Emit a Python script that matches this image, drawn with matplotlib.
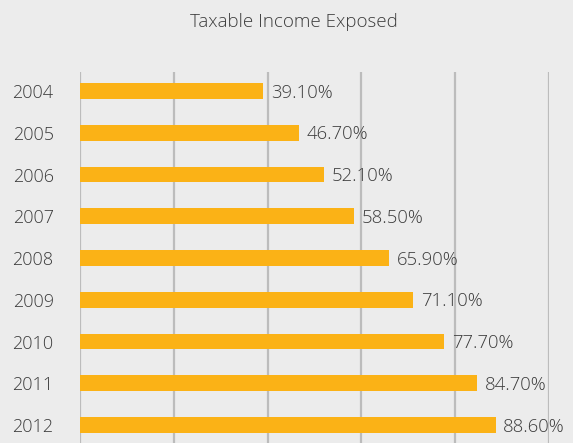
import numpy as np
import matplotlib.pyplot as plt

years = ["2004", "2005", "2006", "2007", "2008", "2009", "2010", "2011", "2012"]
exposed = [39.1, 46.7, 52.1, 58.5, 65.9, 71.1, 77.7, 84.7, 88.6]

bg = "#ececec"
bar_color = "#fbb216"
text_color = "#3c3c3c"

plt.rcParams["font.family"] = ["Open Sans", "DejaVu Sans"]
plt.rcParams["font.weight"] = "light"

fig = plt.figure(figsize=(5.73, 4.43), dpi=100, facecolor=bg)
ax = fig.add_axes([80 / 573, 0, 469 / 573, 371 / 443], facecolor=bg)

y = np.arange(len(years))
ax.barh(y, exposed, height=0.38, color=bar_color, zorder=3)

for yi, v in zip(y, exposed):
    ax.text(v + 1.6, yi + 0.04, f"{v:.2f}%", va="center", ha="left", fontweight="light",
            fontsize=13.3, color=text_color, clip_on=False)

ax.set_xlim(0, 100)
ax.set_ylim(8.43, -0.455)
ax.set_xticks(np.arange(0, 101, 20))
ax.set_xticklabels([])
ax.grid(axis="x", color="#bcbcbc", linewidth=1.6, zorder=0)
ax.set_yticks(y, years)
ax.tick_params(axis="y", length=0, pad=19, labelsize=13, labelcolor=text_color)
ax.tick_params(axis="x", length=0)
for s in ax.spines.values():
    s.set_visible(False)

fig.text(294 / 573, 1 - 22 / 443, "Taxable Income Exposed", ha="center", va="center",
         fontsize=13.5, fontweight="light", color=text_color)

fig.savefig("out.png", dpi=100, facecolor=bg)
